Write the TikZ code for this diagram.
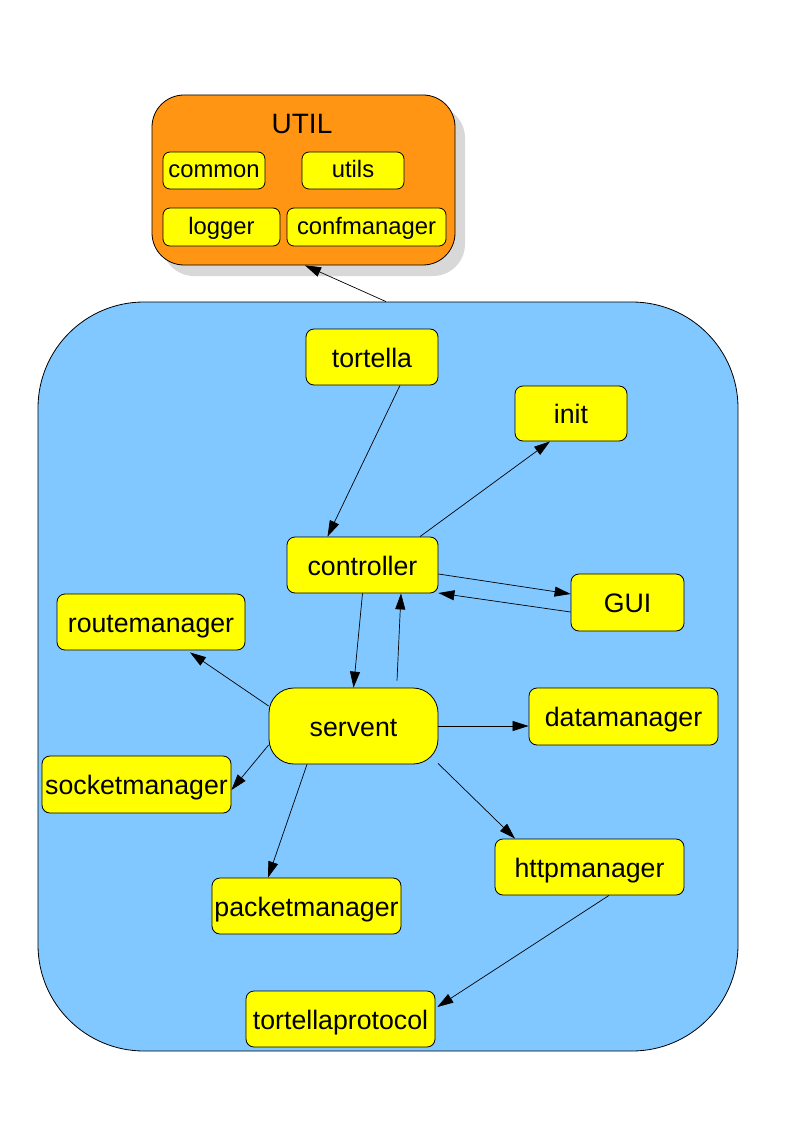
\documentclass[tikz,border=0pt]{standalone}
\usepackage{fontspec}
\setmainfont{Liberation Sans}
\usetikzlibrary{arrows.meta,shadows}
\definecolor{corefill}{RGB}{128,200,255}
\definecolor{utilfill}{RGB}{255,149,18}
\definecolor{boxfill}{RGB}{255,255,0}
\definecolor{shadowgray}{RGB}{216,216,216}
\tikzset{
  modbox/.style={draw=black, line width=0.8pt, fill=boxfill, rounded corners=8pt,
    inner sep=0pt, text height=20pt, text depth=0pt, font=\fontsize{26.7}{30}\selectfont},
  smallbox/.style={modbox, font=\fontsize{23.8}{27}\selectfont, text height=14pt, rounded corners=7pt},
  dep/.style={line width=0.7pt, -{Triangle[length=16pt,width=10pt]}},
}
\begin{document}
\begin{tikzpicture}[x=1pt,y=-1pt]
\useasboundingbox (0,0) rectangle (794,1123);
\fill[white] (0,0) rectangle (794,1123);

% UTIL package
\node[draw=black, line width=0.8pt, fill=utilfill, rounded corners=32pt,
  minimum width=303pt, minimum height=170pt, inner sep=0pt,
  drop shadow={shadow xshift=10pt, shadow yshift=-11pt, fill=shadowgray, opacity=1}]
  (util) at (303.5,180) {};
\node[font=\fontsize{28}{32}\selectfont, inner sep=0pt] (utiltitle) at (302,124.5) {UTIL};
\node[smallbox, minimum width=102pt, minimum height=37pt] (common) at (214,170.5) {common};
\node[smallbox, minimum width=102pt, minimum height=37pt] (utils) at (353,170.5) {utils};
\node[smallbox, minimum width=117pt, minimum height=38pt] (logger) at (221.5,227) {logger};
\node[smallbox, minimum width=159pt, minimum height=38pt] (confmanager) at (366.5,227) {confmanager};

% core package
\node[draw=black, line width=0.8pt, fill=corefill, rounded corners=106pt,
  minimum width=700pt, minimum height=749pt, inner sep=0pt] (core) at (388,676.5) {};

\node[modbox, minimum width=132pt, minimum height=56pt] (tortella) at (372,357) {tortella};
\node[modbox, minimum width=112pt, minimum height=55pt] (init) at (571,413.5) {init};
\node[modbox, minimum width=151pt, minimum height=56pt] (controller) at (362.5,565) {controller};
\node[modbox, minimum width=113pt, minimum height=57pt] (GUI) at (627.5,602.5) {GUI};
\node[modbox, minimum width=188pt, minimum height=56pt] (routemanager) at (151,622) {routemanager};
\node[modbox, rounded corners=25pt, minimum width=169pt, minimum height=76pt] (servent) at (353.5,726) {servent};
\node[modbox, minimum width=189pt, minimum height=57pt] (datamanager) at (623.5,716.5) {datamanager};
\node[modbox, minimum width=189pt, minimum height=57pt] (socketmanager) at (136.5,784.5) {socketmanager};
\node[modbox, minimum width=189pt, minimum height=56pt] (httpmanager) at (589.5,867) {httpmanager};
\node[modbox, minimum width=189pt, minimum height=56pt] (packetmanager) at (306.5,906) {packetmanager};
\node[modbox, minimum width=189pt, minimum height=56pt] (tortellaprotocol) at (340.5,1019) {tortellaprotocol};

% connectors
\draw[dep] ([xshift=-2pt]core.north) -- ([xshift=1.5pt]util.south);
\draw[dep] ([xshift=28pt]tortella.south) -- ([xshift=-35pt]controller.north);
\draw[dep] ([xshift=57.5pt]controller.north) -- ([xshift=-21pt]init.south);
\draw[dep] ([yshift=-9pt]controller.east) -- ([yshift=8.5pt]GUI.west);
\draw[dep] ([yshift=-9.5pt]GUI.west) -- ([yshift=-28pt]controller.east);
\draw[dep] (controller.south) -- (servent.north);
\draw[dep] ([xshift=43.5pt,yshift=7pt]servent.north) -- ([xshift=38.5pt]controller.south);
\draw[dep] ([yshift=20pt]servent.west) -- ([xshift=39pt,yshift=-2pt]routemanager.south);
\draw[dep] (servent.east) -- (servent.east -| datamanager.west);
\draw[dep] ([yshift=-19pt]servent.west) -- ([yshift=-5.5pt]socketmanager.east);
\draw[dep] ([xshift=-46.5pt]servent.south) -- ([xshift=-38.5pt]packetmanager.north);
\draw[dep] ([xshift=84.5pt,yshift=1pt]servent.south) -- ([xshift=-74.5pt]httpmanager.north);
\draw[dep] ([xshift=19.5pt]httpmanager.south) -- ([xshift=2pt,yshift=12pt]tortellaprotocol.east);
\end{tikzpicture}
\end{document}
